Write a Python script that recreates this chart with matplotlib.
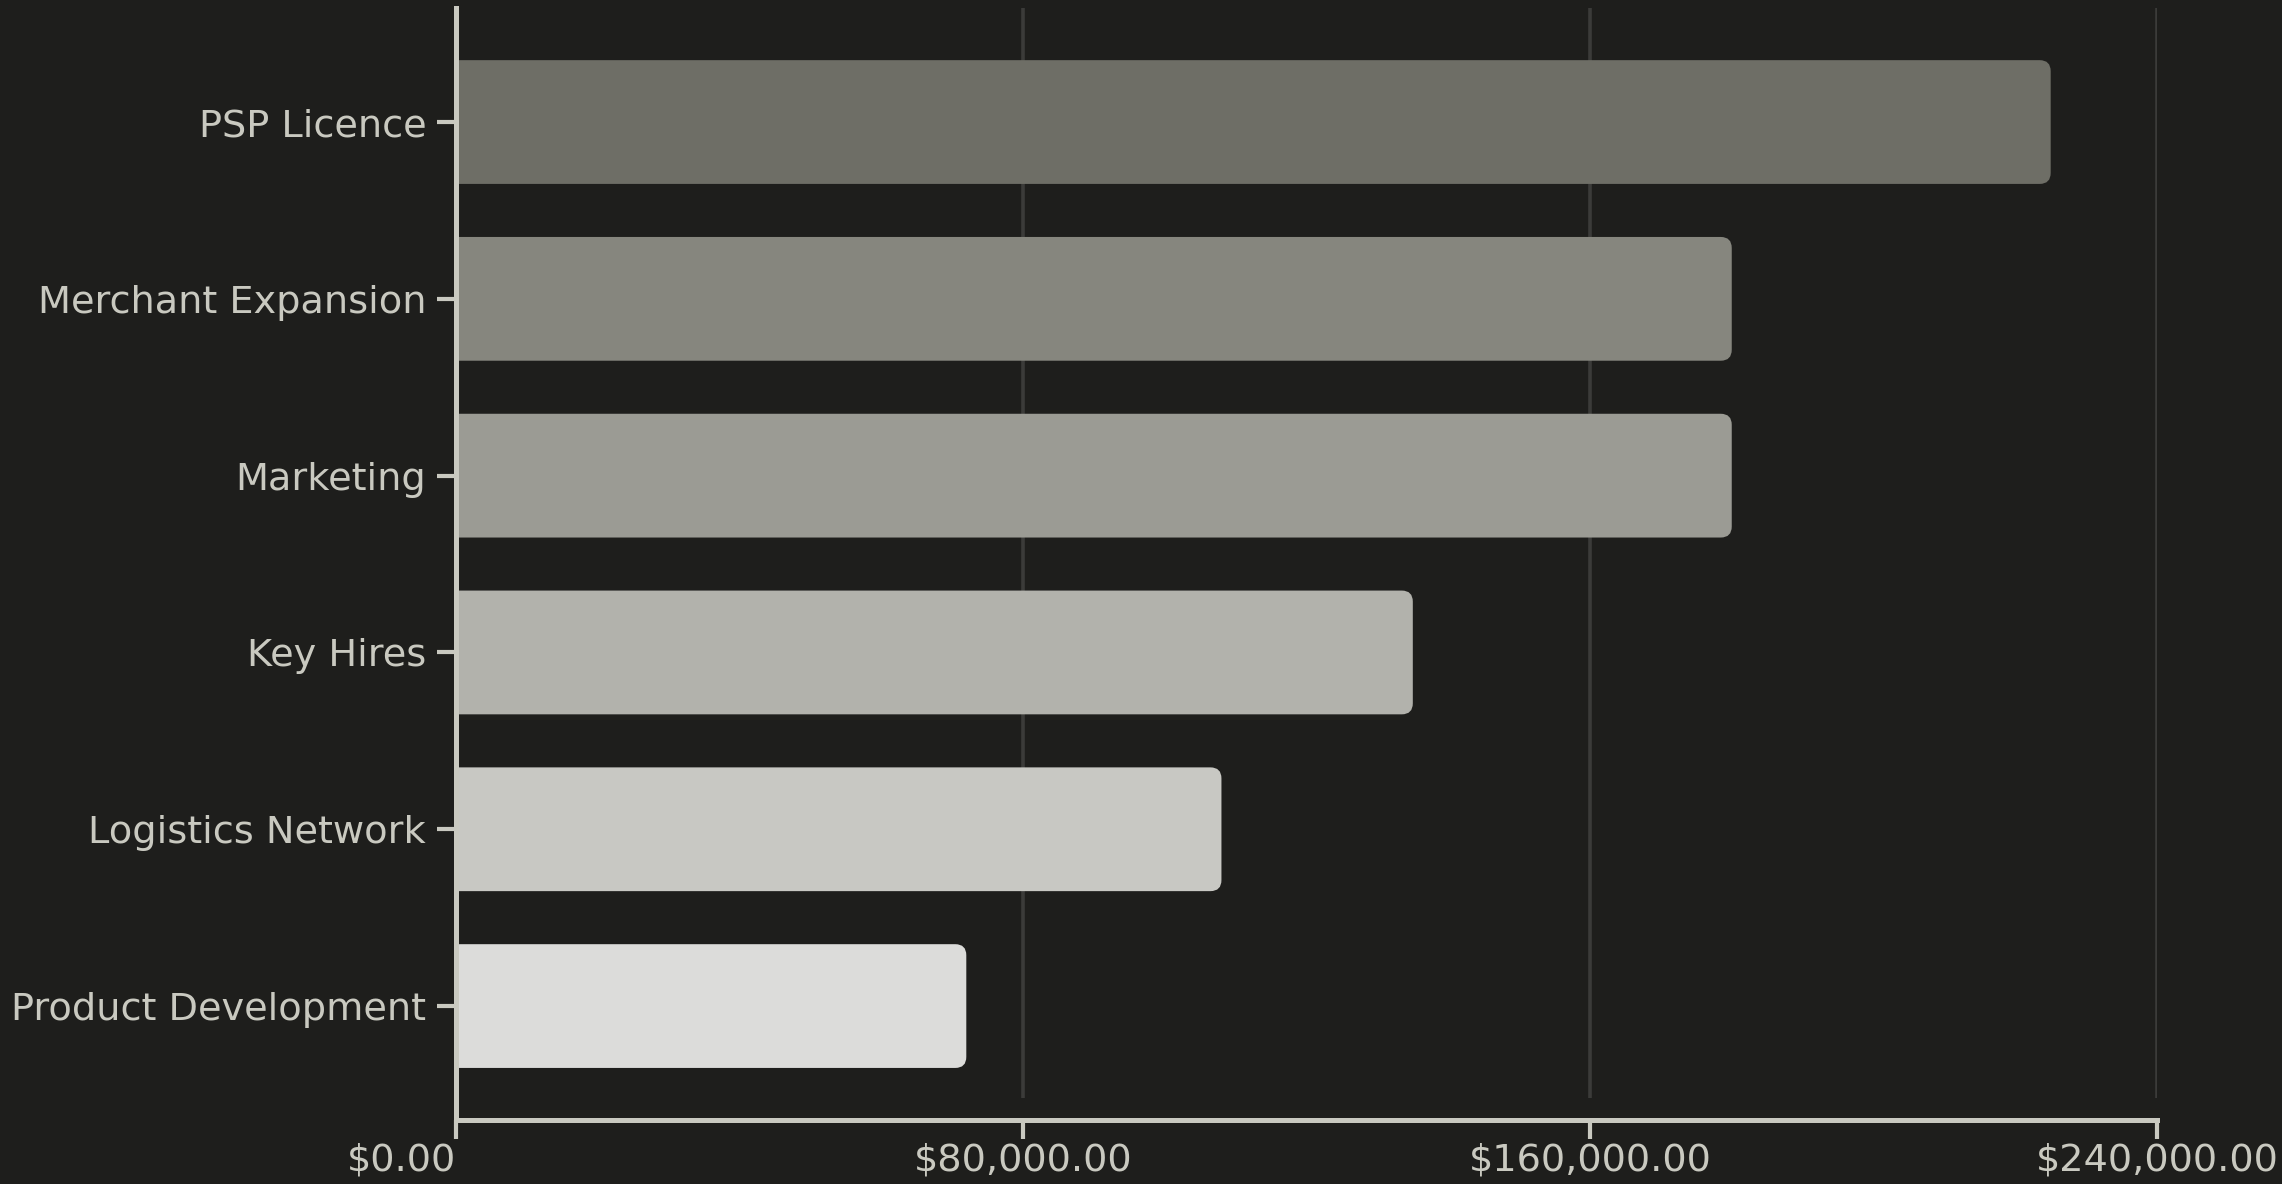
import matplotlib
matplotlib.use("Agg")
import matplotlib.pyplot as plt
from matplotlib.patches import FancyBboxPatch
from matplotlib.ticker import FuncFormatter

categories = ["PSP Licence", "Merchant Expansion", "Marketing",
              "Key Hires", "Logistics Network", "Product Development"]
values = [225000, 180000, 180000, 135000, 108000, 72000]
colors = ["#6e6e66", "#86867e", "#9b9b94", "#b2b2ac", "#c8c8c3", "#dcdcda"]
xticks = [0, 80000, 160000, 240000]

BG = "#1e1e1c"
FG = "#c9c9c0"
GRID = "#3b3b39"

fig = plt.figure(figsize=(22.82, 11.84), dpi=100, facecolor=BG)
ax = fig.add_axes([456 / 2282, (1184 - 1098) / 1184,
                   (2157 - 456) / 2282, (1098 - 8) / 1184])
ax.set_facecolor(BG)

ax.set_xlim(0, 240000)
ax.set_ylim(5.52, -0.645)

# rounded bars (only the right end shows, left end is clipped at x=0)
p0 = ax.transData.transform((0, 0))
p1 = ax.transData.transform((1, 1))
dx_px = 1 / abs(p1[0] - p0[0])
dy_px = 1 / abs(p1[1] - p0[1])
r = 11
h = 0.70
for i, (v, c) in enumerate(zip(values, colors)):
    box = FancyBboxPatch((-40 * dx_px, i - h / 2), v + 40 * dx_px, h,
                         boxstyle=f"round,pad=0,rounding_size={r * dx_px}",
                         mutation_aspect=dy_px / dx_px,
                         facecolor=c, edgecolor="none", zorder=3)
    ax.add_patch(box)

ax.set_yticks(range(len(categories)))
ax.set_yticklabels(categories)
ax.set_xticks(xticks)
ax.xaxis.set_major_formatter(FuncFormatter(lambda x, pos: f"${x:,.2f}"))

ax.grid(axis="x", color=GRID, linewidth=2.6, zorder=0)
ax.grid(axis="y", visible=False)

for s in ["top", "right"]:
    ax.spines[s].set_visible(False)
for s in ["left", "bottom"]:
    ax.spines[s].set_color(FG)
    ax.spines[s].set_linewidth(3.6)
    ax.spines[s].set_zorder(4)
ax.spines["bottom"].set_position(("outward", 15.8))
# extend left spine down to the offset bottom spine
ax.plot([0, 0], [-22 / 1090, 0], transform=ax.transAxes, clip_on=False,
        color=FG, linewidth=3.6, solid_capstyle="butt", zorder=4)

ax.tick_params(axis="both", colors=FG, labelcolor=FG, labelsize=27.5,
               length=13.5, width=3)
ax.tick_params(axis="y", pad=8)
ax.tick_params(axis="x", pad=3)

# first x label sits to the left of its tick
ax.get_xticklabels()[0].set_horizontalalignment("right")

fig.savefig("out.png", dpi=100, facecolor=BG)
